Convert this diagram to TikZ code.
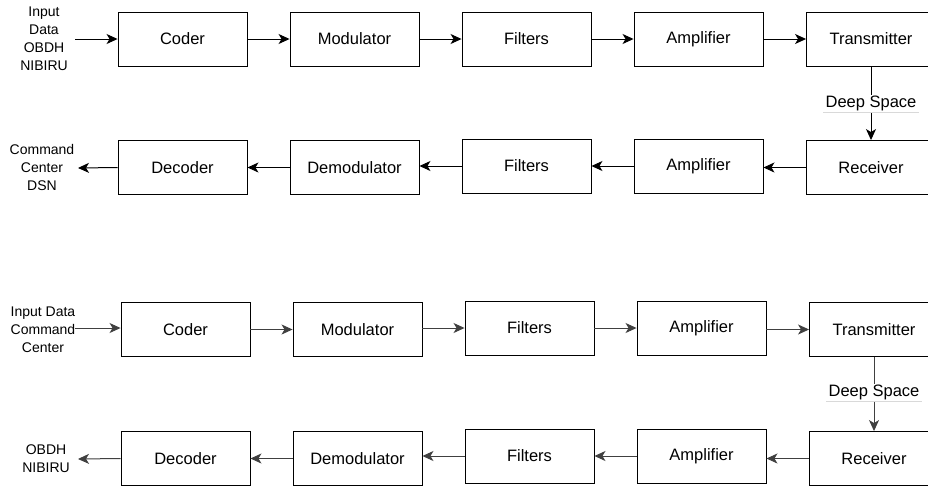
\documentclass[tikz,border=0pt]{standalone}
\usepackage{fontspec}
\setmainfont{Liberation Sans}
\usetikzlibrary{arrows.meta}
\begin{document}
\begin{tikzpicture}[x=1pt,y=-1pt,
  blk/.style={draw=black,line width=0.9pt,minimum width=129pt,minimum height=54pt,inner sep=0pt,font=\fontsize{16.5}{19}\selectfont},
  side/.style={align=center,inner sep=0pt,font=\fontsize{14}{18}\selectfont},
  arr/.style={draw=black,line width=1pt,-{Stealth[length=11pt,width=10pt,inset=3pt]}},
  arrg/.style={draw=black!75,line width=1pt,-{Stealth[length=11pt,width=10pt,inset=3pt]}},
  dsp/.style={fill=white,inner xsep=2pt,inner ysep=1pt,font=\fontsize{16.5}{19}\selectfont},
  uline/.style={draw=black!15,line width=0.8pt}]
\useasboundingbox (0,0) rectangle (928,488);
\fill[white] (0,0) rectangle (928,488);
% ---------- top diagram ----------
\node[blk] (a1) at (182.5,39) {Coder};
\node[blk] (a2) at (354.5,39) {Modulator};
\node[blk] (a3) at (526.5,39) {Filters};
\node[blk] (a4) at (698.5,39) {Amplifier};
\node[blk] (a5) at (871,39) {Transmitter};
\node[blk] (b1) at (182.5,167.5) {Decoder};
\node[blk] (b2) at (354.5,167.5) {Demodulator};
\node[blk] (b3) at (526.5,166) {Filters};
\node[blk] (b4) at (698.5,166) {Amplifier};
\node[blk] (b5) at (871,167.5) {Receiver};
\node[side] (ain) at (44,39) {Input\\Data\\OBDH\\NIBIRU};
\node[side] (bout) at (42,167) {Command\\Center\\DSN};
\coordinate (ainE) at (75,39);
\coordinate (boutE) at (78,168);
\draw[arr] (ainE) -- (a1.west);
\draw[arr] (a1) -- (a2);
\draw[arr] (a2) -- (a3);
\draw[arr] (a3) -- (a4);
\draw[arr] (a4) -- (a5);
\draw[arr] (a5.south) -- (b5.north) node[dsp,midway] (ds1) {Deep Space};
\draw[uline] (ds1.south west) -- (ds1.south east);
\draw[arr] (b5.west) -- (b4.east|-b5.west);
\draw[arr] (b4) -- (b3);
\draw[arr] (b3.west) -- (b2.east|-b3.west);
\draw[arr] (b2) -- (b1);
\draw[arr] (b1.west) -- (boutE);
% ---------- bottom diagram ----------
\node[blk] (c1) at (185.5,329.5) {Coder};
\node[blk] (c2) at (357.5,329.5) {Modulator};
\node[blk] (c3) at (529.5,328) {Filters};
\node[blk] (c4) at (701.5,328) {Amplifier};
\node[blk] (c5) at (874,329.5) {Transmitter};
\node[blk] (d1) at (185.5,458.5) {Decoder};
\node[blk] (d2) at (357.5,458.5) {Demodulator};
\node[blk] (d3) at (529.5,456) {Filters};
\node[blk] (d4) at (701.5,456) {Amplifier};
\node[blk] (d5) at (874,458.5) {Receiver};
\node[side] (cin) at (43,330) {Input Data\\Command\\Center};
\node[side] (dout) at (46,459) {OBDH\\NIBIRU};
\coordinate (cinE) at (75,328);
\coordinate (doutE) at (78,459);
\draw[arrg] (cinE) -- (c1.west|-cinE);
\draw[arrg] (c1.east|-c2.west) -- (c2.west);
\draw[arrg] (c2.east|-c3.west) -- (c3.west);
\draw[arrg] (c3) -- (c4);
\draw[arrg] (c4.east|-c5.west) -- (c5.west);
\draw[arrg] (c5.south) -- (d5.north) node[dsp,pos=0.48] (ds2) {Deep Space};
\draw[uline] (ds2.south west) -- (ds2.south east);
\draw[arrg] (d5.west) -- (d4.east|-d5.west);
\draw[arrg] (d4.west) -- (d3.east|-d4.west);
\draw[arrg] (d3.west) -- (d2.east|-d3.west);
\draw[arrg] (d2) -- (d1);
\draw[arrg] (d1.west) -- (doutE);
\end{tikzpicture}
\end{document}
